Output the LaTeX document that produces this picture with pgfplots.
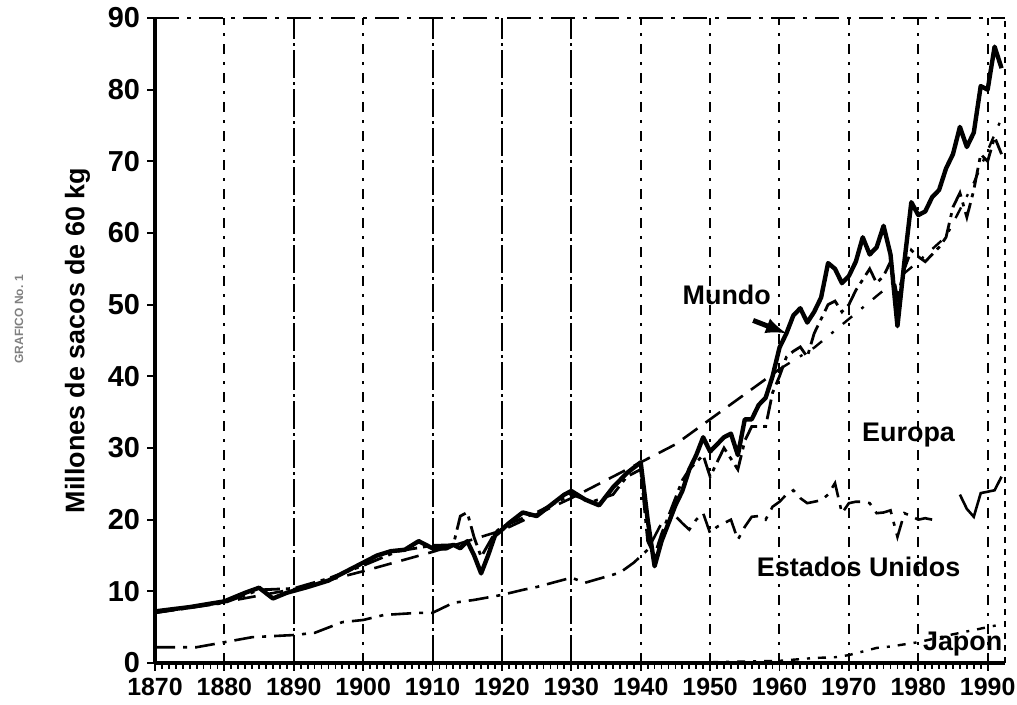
\documentclass[border=0pt]{standalone}
\usepackage{fontspec}
\setmainfont{Liberation Sans}
\usepackage{pgfplots}
\pgfplotsset{compat=1.18}
\usetikzlibrary{calc}

% gridline looks
\tikzset{
  gridA/.style={black, line width=1bp, dash pattern=on 14bp off 2bp on 1.5bp off 2bp},
  gridB/.style={black, line width=1bp, dash pattern=on 5bp off 4bp on 1.5bp off 4bp},
  lab/.style={font=\fontsize{13.5}{15}\selectfont\bfseries},
}

\begin{document}
\begin{tikzpicture}
\begin{axis}[
    name=ax,
    scale only axis,
    width=425bp, height=322.5bp,
    xmin=1870, xmax=1992.5,
    ymin=0, ymax=90,
    axis lines=left,
    axis line style={-, line width=1.6bp},
    xtick={1870,1880,...,1990},
    ytick={0,10,...,90},
    minor x tick num=9,
    tick align=outside,
    major tick length=4bp,
    minor tick length=3bp,
    tick style={black, line width=0.9bp},
    xticklabel style={font=\fontsize{12.5}{14}\selectfont\bfseries},
    yticklabel style={font=\fontsize{14.5}{16}\selectfont\bfseries},
    /pgf/number format/assume math mode=true,
    /pgf/number format/1000 sep={},
    ylabel={Millones de sacos de 60 kg},
    ylabel style={font=\fontsize{13.5}{15}\selectfont\bfseries, yshift=2bp},
    clip=false,
]
% frame: dashed top, dotted right
\draw[black, line width=1bp, dash pattern=on 12bp off 4bp on 2bp off 4bp] (axis cs:1870,90) -- (axis cs:1992.5,90);
\draw[black, line width=1.2bp, dash pattern=on 3bp off 3bp] (axis cs:1992.5,0) -- (axis cs:1992.5,90);
% decade gridlines
\pgfplotsinvokeforeach{1890,1910,1920,1930}{\draw[gridA] (axis cs:#1,0) -- (axis cs:#1,90);}
\pgfplotsinvokeforeach{1880,1900,1940,1950,1960,1970,1980,1990}{\draw[gridB] (axis cs:#1,0) -- (axis cs:#1,90);}

% Mundo
\addplot[black, line width=2.2bp, line join=round] coordinates {
(1870,7.2) (1875,7.8) (1880,8.6) (1883,9.8) (1885,10.5) (1887,9.0) (1889,9.8)
(1892,10.6) (1895,11.5) (1898,13.0) (1900,14.0) (1902,15.0) (1904,15.6) (1906,15.8)
(1908,17.0) (1910,16.0) (1912,16.0) (1913,16.5) (1914,16.0) (1915,17.0) (1916,15.0)
(1917,12.5) (1918,15.0) (1919,17.8) (1920,18.6) (1921,19.5) (1923,21.0) (1925,20.5)
(1927,22.0) (1929,23.5) (1930,24.0) (1932,22.8) (1934,22.0) (1936,24.5) (1938,26.5)
(1940,28.0) (1941,20.0) (1942,13.5) (1943,17.0) (1945,22.0) (1946,24.0) (1947,27.0)
(1948,29.0) (1949,31.5) (1950,29.5) (1951,30.5) (1952,31.5) (1953,32.0) (1954,29.0)
(1955,34.0) (1956,34.0) (1957,36.0) (1958,37.0) (1959,40.0) (1960,44.0) (1961,46.0)
(1962,48.5) (1963,49.5) (1964,47.5) (1965,49.0) (1966,51.0) (1967,55.8) (1968,55.0)
(1969,53.0) (1970,54.0) (1971,56.0) (1972,59.4) (1973,57.0) (1974,58.0) (1975,61.0)
(1976,57.0) (1977,47.0) (1978,56.0) (1979,64.3) (1980,62.5) (1981,63.0) (1982,65.0)
(1983,66.0) (1984,69.0) (1985,71.0) (1986,74.8) (1987,72.0) (1988,74.0) (1989,80.5)
(1990,80.0) (1991,86.0) (1992,83.0)
};
% Europa
\addplot[black, line width=1.4bp, dash pattern=on 10bp off 3bp on 2bp off 3bp] coordinates {
(1870,7.0) (1880,8.4) (1885,10.2) (1890,10.4) (1895,11.8) (1900,13.6) (1905,15.6)
(1910,16.4) (1913,16.5) (1914,20.5) (1915,21.0) (1916,17.5) (1917,14.8) (1918,16.5)
(1919,18.2) (1920,19.0) (1925,21.0) (1930,23.5) (1933,22.5) (1936,23.5) (1938,26.0)
(1940,27.0) (1941,17.0) (1942,15.0) (1943,18.0) (1945,23.0) (1946,25.5) (1947,27.0)
(1948,28.0) (1949,29.0) (1950,26.0) (1951,28.0) (1952,30.0) (1953,28.5) (1954,27.0)
(1955,31.0) (1956,33.0) (1957,33.0) (1958,33.0) (1959,37.7) (1960,40.0) (1961,42.7)
(1962,43.5) (1963,44.1) (1964,42.7) (1965,46.0) (1966,48.0) (1967,50.0) (1968,50.5)
(1969,49.0) (1970,50.0) (1971,52.0) (1972,53.5) (1973,55.0) (1974,53.0) (1975,54.0)
(1976,56.0) (1977,51.0) (1978,55.0) (1979,57.6) (1980,56.7) (1981,56.0) (1982,57.0)
(1983,58.0) (1984,59.4) (1985,63.6) (1986,65.6) (1987,62.2) (1988,66.0) (1989,71.0)
(1990,70.0) (1991,73.4) (1992,71.0)
};
% tendencia
\addplot[black, line width=1.3bp, dash pattern=on 9bp off 5bp] coordinates {
(1870,7.0) (1880,8.5) (1890,10.3) (1900,12.8) (1910,15.5) (1920,18.5) (1930,23.0)
(1940,28.0) (1945,30.5) (1950,34.0) (1955,37.5) (1960,41.0)
};
\addplot[black, line width=1.2bp, dash pattern=on 6bp off 6bp on 1.5bp off 6bp] coordinates {
(1960,41.0) (1965,44.0) (1970,48.0) (1975,52.0) (1980,56.0) (1984,59.5) (1988,67.0) (1992,76.0)
};
% Estados Unidos
\addplot[black, line width=1.3bp, dash pattern=on 10bp off 4bp on 2bp off 4bp] coordinates {
(1870,2.2) (1876,2.2) (1880,2.9) (1884,3.6) (1890,3.9) (1893,4.2) (1897,5.7) (1900,6.0)
(1903,6.7) (1908,7.0) (1910,7.0) (1913,8.4) (1916,8.8) (1920,9.5) (1923,10.2) (1925,10.6)
(1930,11.9) (1932,11.2) (1937,12.6) (1939,14.0) (1941,15.8) (1943,19.5) (1944,19.7)
(1945,20.5) (1946,19.5) (1947,18.6) (1948,20.0) (1949,20.9) (1950,18.1) (1951,19.0)
(1952,19.5) (1953,20.0) (1954,17.2) (1955,19.0) (1956,20.4) (1957,20.5) (1958,20.0)
(1959,21.8) (1960,22.5) (1961,23.5) (1962,24.1) (1963,23.0) (1964,22.3) (1965,22.5)
(1966,22.7) (1967,23.5) (1968,25.1) (1969,20.9) (1970,22.3) (1971,22.5) (1972,22.5)
(1973,22.3) (1974,20.9) (1975,21.0) (1976,21.3) (1977,17.6) (1978,20.9) (1979,20.5)
(1980,20.0) (1981,20.2) (1982,20.0)
};
\addplot[black, line width=1.3bp] coordinates {
(1986,23.5) (1987,21.5) (1988,20.4) (1989,23.7) (1990,23.9) (1991,24.1) (1992,26.0)
};
% Japon
\addplot[black, line width=1.2bp, dash pattern=on 4bp off 4bp on 1.5bp off 4bp] coordinates {
(1950,0.1) (1955,0.2) (1960,0.3) (1965,0.7) (1968,0.8) (1970,1.1) (1974,2.1) (1976,2.3)
(1980,2.9) (1985,4.0) (1990,5.0) (1992,5.4)
};

% labels
\node[lab] at (axis cs:1952.4,51.3) {Mundo};
\draw[black, line width=2.5bp, -latex] (axis cs:1956.2,47.8) -- (axis cs:1961,46.0);
\node[lab] at (axis cs:1978.6,31.8) {Europa};
\node[lab] at (axis cs:1971.4,13.4) {Estados Unidos};
\node[lab] at (axis cs:1986.4,2.6) {Japon};

\coordinate (sw) at (rel axis cs:0,0);
\coordinate (ne) at (rel axis cs:1,1);
\end{axis}
\node[rotate=90, font=\fontsize{6}{7}\selectfont\bfseries, gray] at ($(sw)+(-68bp,172bp)$) {GRAFICO No. 1};
\pgfresetboundingbox
\path[use as bounding box] ($(sw)+(-77.5bp,-21bp)$) rectangle ($(ne)+(6bp,9bp)$);
\end{tikzpicture}
\end{document}
